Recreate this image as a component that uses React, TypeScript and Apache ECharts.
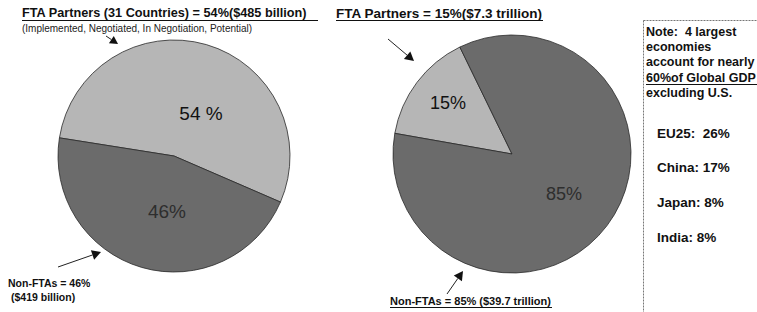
import React, { useEffect, useRef } from "react";
import * as echarts from "echarts";

const leftCategories = ["FTA Partners", "Non-FTAs"];
const leftValues = [54, 46];
const leftLabels = ["54 %", "46%"];
const rightCategories = ["FTA Partners", "Non-FTAs"];
const rightValues = [15, 85];
const rightLabels = ["15%", "85%"];
const noteLines = ["Note:  4 largest", "economies", "account for nearly", "60%of Global GDP", "excluding U.S."];
const economies = ["EU25:  26%", "China: 17%", "Japan: 8%", "India: 8%"];

const LIGHT = "#b6b6b6";
const DARK = "#6b6b6b";
const FONT = "'Liberation Sans', Arial, sans-serif";

function arrow(x1: number, y1: number, x2: number, y2: number, head = 9) {
  const a = Math.atan2(y2 - y1, x2 - x1);
  const w = head * 0.55;
  const bx = x2 - head * Math.cos(a);
  const by = y2 - head * Math.sin(a);
  return [
    { type: "line", shape: { x1, y1, x2: bx, y2: by }, style: { stroke: "#222", lineWidth: 1 } },
    {
      type: "polygon",
      shape: {
        points: [
          [x2, y2],
          [bx + w * Math.sin(a), by - w * Math.cos(a)],
          [bx - w * Math.sin(a), by + w * Math.cos(a)],
        ],
      },
      style: { fill: "#111" },
    },
  ];
}

function txt(x: number, y: number, text: string, size: number, weight = "bold", color = "#111") {
  return {
    type: "text",
    x,
    y,
    style: { text, font: `${weight} ${size}px ${FONT}`, fill: color, textVerticalAlign: "middle" },
  };
}

function uline(x1: number, x2: number, y: number) {
  return { type: "line", shape: { x1, y1: y, x2, y2: y }, style: { stroke: "#111", lineWidth: 1 } };
}

export default function App() {
  const ref = useRef<HTMLDivElement>(null);
  useEffect(() => {
    if (!ref.current) return;
    const chart = echarts.init(ref.current, undefined, { renderer: "svg" });
    const mk = (cats: string[], vals: number[], labs: string[], colors: string[], labStyles: any[]) =>
      cats.map((c, i) => ({
        name: c,
        value: vals[i],
        itemStyle: { color: colors[i] },
        label: { formatter: labs[i], ...labStyles[i] },
      }));
    chart.setOption({
      animation: false,
      backgroundColor: "#ffffff",
      series: [
        {
          type: "pie",
          center: [174, 156],
          radius: 116,
          startAngle: 171,
          clockwise: true,
          silent: true,
          itemStyle: { borderColor: "#2a2a2a", borderWidth: 0.8 },
          label: { show: true, position: "inside", fontFamily: FONT, fontSize: 19 },
          labelLine: { show: false },
          data: mk(leftCategories, leftValues, leftLabels, [LIGHT, DARK], [
            { color: "#111", offset: [10, 16] },
            { color: "#2e2e2e", offset: [10, -3] },
          ]),
        },
        {
          type: "pie",
          center: [512, 154],
          radius: 119,
          startAngle: 170,
          clockwise: true,
          silent: true,
          itemStyle: { borderColor: "#2a2a2a", borderWidth: 0.8 },
          label: { show: true, position: "inside", fontFamily: FONT, fontSize: 18 },
          labelLine: { show: false },
          data: mk(rightCategories, rightValues, rightLabels, [LIGHT, DARK], [
            { color: "#111", offset: [-14, -13] },
            { color: "#2e2e2e", offset: [2, 2] },
          ]),
        },
      ],
      graphic: [
        txt(22, 13, "FTA Partners (31 Countries) = 54%($485 billion)", 12.7),
        uline(22, 318, 20.5),
        txt(22, 28, "(Implemented, Negotiated, In Negotiation, Potential)", 10, "normal", "#222"),
        txt(336, 13, "FTA Partners = 15%($7.3 trillion)", 13.5),
        uline(336, 543, 20.5),
        ...arrow(106, 36, 118, 44, 8),
        ...arrow(58, 267, 101, 252),
        txt(8, 283, "Non-FTAs = 46%", 10.5),
        txt(11, 297, "($419 billion)", 10.5),
        ...arrow(388, 39, 414, 61),
        ...arrow(447, 294, 463, 271),
        txt(390, 301, "Non-FTAs = 85% ($39.7 trillion)", 11),
        uline(390, 552, 307.5),
        {
          type: "rect",
          shape: { x: 643.5, y: 20.5, width: 130, height: 300 },
          style: { fill: "#fff", stroke: "#777", lineWidth: 1, lineDash: [2, 1] },
        },
        ...noteLines.map((l, i) => txt(646, 32 + i * 15.2, l, 12.5)),
        uline(646, 757, 84.5),
        ...economies.map((l, i) => txt(657, 133 + i * 34.7, l, 13.5)),
      ],
    });
    return () => chart.dispose();
  }, []);
  return <div ref={ref} style={{ position: "fixed", left: 0, top: 0, width: 757, height: 312 }} />;
}
